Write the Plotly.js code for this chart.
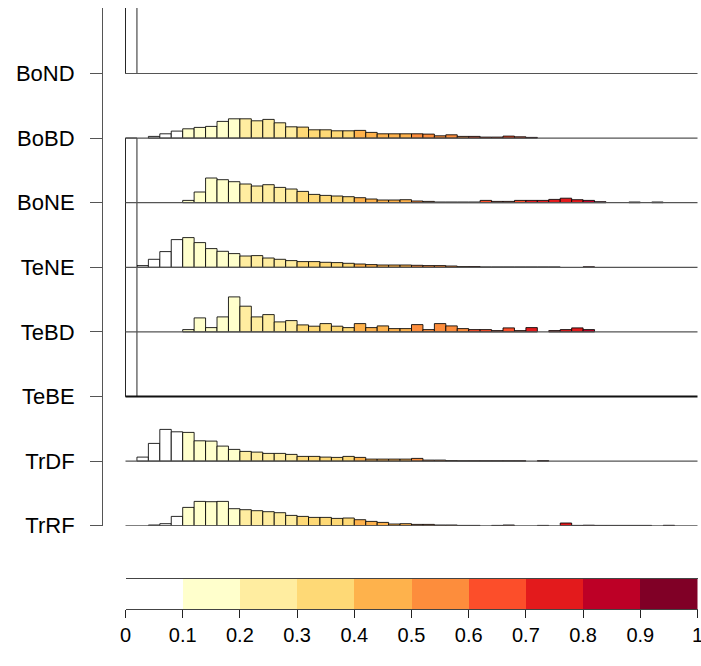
<!DOCTYPE html>
<html>
<head>
<meta charset="utf-8">
<script src="https://cdn.plot.ly/plotly-3.0.1.min.js"></script>
<style>html,body{margin:0;padding:0;background:#fff;}#chart{width:701px;height:666px;}</style>
</head>
<body>
<div id="chart"></div>
<script>
// Categories, bottom to top
const categories = ["TrRF", "TrDF", "TeBE", "TeBD", "TeNE", "BoNE", "BoBD", "BoND"];

// Histogram bin left edges (bin width 0.02)
const binLeft = [0,0.02,0.04,0.06,0.08,0.1,0.12,0.14,0.16,0.18,0.2,0.22,0.24,0.26,0.28,0.3,0.32,0.34,0.36,0.38,
                 0.4,0.42,0.44,0.46,0.48,0.5,0.52,0.54,0.56,0.58,0.6,0.62,0.64,0.66,0.68,0.7,0.72,0.74,0.76,0.78,
                 0.8,0.82,0.84,0.86,0.88,0.9,0.92,0.94,0.96,0.98];
const binWidth = 0.02;

// Bar heights per bin (relative density)
const TrRF = [0,0,0.7,2,9.3,18.3,24.3,24,24.3,17,16,15,14,13,10.3,9.3,8.3,8.3,7.3,7.7,
              6,4.3,3.3,1.7,2,1.3,1.3,0.7,0.7,0.3,0.3,0,0.3,0.7,0,0,0.3,0,2.7,0.3,
              0.5,0.3,0.3,0.3,0.3,0.3,0,0.4,0,0];
const TrDF = [0,4,17.7,31.7,29.3,28.7,20.3,20,15,11.7,9.7,9,7.7,7.7,6.7,4.7,4.7,4,3.7,4.7,
              3.7,2,2,2,2,2.7,1,1,0.5,0.3,0.3,0.3,0.3,0.3,0.3,0,0.4,0,0,0,
              0,0,0,0,0,0,0,0,0,0];
const TeBE = [258.5,0,0,0,0,0,0,0,0,0,0,0,0,0,0,0,0,0,0,0,
              0,0,0,0,0,0,0,0,0,0,0,0,0,0,0,0,0,0,0,0,
              0,0,0,0,0,0,0,0,0,0];
const TeBD = [0,0,0,0,0,2.3,14,4.3,15,35,25.7,15,17.3,10,11.3,7,5.7,8.3,5.7,4.3,
              8.3,4.3,6,3.3,3.3,7.3,2.3,8.3,6,3.3,2.3,2.3,1.3,4,1.3,4.3,0,1.3,2.3,4,
              2.3,0,0,0,0,0,0,0,0,0];
const TeNE = [0,1.7,8,15.7,27.7,29.7,24.7,18.7,16,13.7,11.3,11.7,9.3,8,6.7,5.7,5.7,5,4.7,4,
              3.3,2.7,2.3,2.3,2.3,2,1.7,1.7,1.3,0.7,0.7,0.3,0.3,0.3,0.3,0.3,0.3,0.3,0,0,
              0.5,0,0,0,0,0,0,0,0,0];
const BoNE = [0,0,0,0,0,2.3,10.7,24.7,23,21,18.7,16.7,18,15.3,13.7,11.3,8.3,7.3,6.7,6,
              5,3.7,2.7,2.7,3,1.7,1.3,0.7,0.7,0.7,0.7,2.3,1.3,1.3,2.3,2.3,2.3,3.3,4.5,3,
              2.3,1,0,0,0.7,0,0.7,0,0,0];
const BoBD = [0,0,1.7,4.3,7,9.3,10.7,11.7,16.7,19.3,19.3,17.3,18.7,15.3,11.3,11,8.3,8.3,7.3,7.3,
              7.7,5.7,4.3,4.3,4.3,4.3,4,2.3,3.3,1.7,1.7,1,1,2,1.3,0.7,0,0,0,0,
              0,0,0,0,0,0,0,0,0,0];
const BoND = [300,0,0,0,0,0,0,0,0,0,0,0,0,0,0,0,0,0,0,0,
              0,0,0,0,0,0,0,0,0,0,0,0,0,0,0,0,0,0,0,0,
              0,0,0,0,0,0,0,0,0,0];

// Colour scale (0 - 1 in steps of 0.1)
const scaleBreaks = [0,0.1,0.2,0.3,0.4,0.5,0.6,0.7,0.8,0.9,1];
const scaleLabels = ["0","0.1","0.2","0.3","0.4","0.5","0.6","0.7","0.8","0.9","1"];
const scaleColors = ["#FFFFFF","#FFFFCC","#FFEDA0","#FED976","#FEB24C","#FD8D3C","#FC4E2A","#E31A1C","#BD0026","#800026"];

const rowSeries = [TrRF, TrDF, TeBE, TeBD, TeNE, BoNE, BoBD, BoND];
const rowGap = 64.6;

function colorFor(v) {
  for (let i = 0; i < scaleColors.length; i++) {
    if (v >= scaleBreaks[i] && v < scaleBreaks[i + 1]) return scaleColors[i];
  }
  return scaleColors[scaleColors.length - 1];
}

const traces = [];
// draw top row first so lower rows sit above
for (let k = rowSeries.length - 1; k >= 0; k--) {
  const vals = rowSeries[k];
  const xs = [], ys = [], cs = [];
  vals.forEach((v, i) => {
    if (v > 0) {
      const mid = binLeft[i] + binWidth / 2;
      xs.push(mid); ys.push(v); cs.push(colorFor(mid));
    }
  });
  traces.push({
    type: "bar", x: xs, y: ys, base: k * rowGap, width: binWidth,
    marker: {color: cs, line: {color: "rgba(0,0,0,0.85)", width: 1}},
    xaxis: "x", yaxis: "y", hoverinfo: "skip", showlegend: false
  });
}

// colour key
const keyX = [], keyW = [];
for (let i = 0; i < scaleColors.length; i++) {
  keyX.push((scaleBreaks[i] + scaleBreaks[i + 1]) / 2);
  keyW.push(scaleBreaks[i + 1] - scaleBreaks[i]);
}
traces.push({
  type: "bar", x: keyX, y: scaleColors.map(() => 1), width: keyW,
  marker: {color: scaleColors, line: {width: 0}},
  xaxis: "x2", yaxis: "y2", hoverinfo: "skip", showlegend: false
});

const shapes = categories.map((c, k) => ({
  type: "line", xref: "x", yref: "y", x0: 0, x1: 1, y0: k * rowGap, y1: k * rowGap,
  line: {color: c === "TeBE" ? "#111" : "#555", width: c === "TeBE" ? 2 : 1.2}, layer: "above"
}));

const W = 701, H = 666, L = 103, R = 1;
const plotW = W - L - R;
const pxPerUnit = 572, zeroPx = 125.5;
const xmin = -(zeroPx - L) / pxPerUnit;
const xmax = xmin + plotW / pxPerUnit;

const layout = {
  width: W, height: H,
  margin: {l: L, r: R, t: 0, b: 0},
  paper_bgcolor: "#fff", plot_bgcolor: "#fff",
  barmode: "overlay", bargap: 0,
  font: {family: "Liberation Sans, Arial, sans-serif", color: "#000"},
  xaxis: {domain: [0, 1], range: [xmin, xmax], visible: false, fixedrange: true},
  yaxis: {
    domain: [(H - 525.7) / H, (H - 8) / H], range: [0, 517.7],
    tickvals: categories.map((c, k) => k * rowGap), ticktext: categories,
    ticks: "outside", ticklen: 12, tickcolor: "#555", tickwidth: 1,
    ticklabelstandoff: 11,
    showline: true, linecolor: "#555", linewidth: 1,
    showgrid: false, zeroline: false,
    tickfont: {size: 22, color: "#000", family: "Liberation Sans, Arial, sans-serif"}
  },
  xaxis2: {
    domain: [(zeroPx - L) / plotW, (zeroPx + pxPerUnit - L) / plotW], range: [-0.000001, 1.000001],
    anchor: "y2", tickvals: scaleBreaks, ticktext: scaleLabels,
    ticks: "outside", ticklen: 8, tickcolor: "#222", tickwidth: 1,
    ticklabeloverflow: "allow",
    showline: true, mirror: true, linecolor: "#444", linewidth: 1,
    showgrid: false, zeroline: false,
    tickfont: {size: 20, color: "#000", family: "Liberation Sans, Arial, sans-serif"}
  },
  yaxis2: {domain: [(H - 609) / H, (H - 579) / H], range: [0, 1], anchor: "x2", visible: false},
  shapes: shapes
};

Plotly.newPlot("chart", traces, layout, {staticPlot: true, displayModeBar: false});
</script>
</body>
</html>
